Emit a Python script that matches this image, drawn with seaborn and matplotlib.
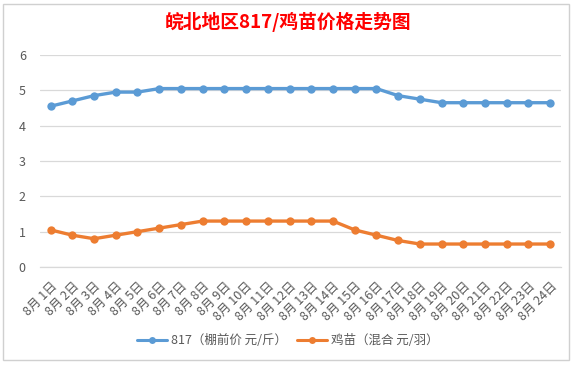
import numpy as np
import pandas as pd
import matplotlib
matplotlib.use("Agg")
import matplotlib.pyplot as plt
from matplotlib.patches import Rectangle
import seaborn as sns

# ── data ─────────────────────────────────────────────────────────────────────
dates = [f"8月 {d}日" for d in range(1, 25)]
price_817 = [4.55, 4.7, 4.85, 4.95, 4.95, 5.05, 5.05, 5.05, 5.05, 5.05, 5.05, 5.05,
             5.05, 5.05, 5.05, 5.05, 4.85, 4.75, 4.65, 4.65, 4.65, 4.65, 4.65, 4.65]
price_chick = [1.05, 0.9, 0.8, 0.9, 1.0, 1.1, 1.2, 1.3, 1.3, 1.3, 1.3, 1.3,
               1.3, 1.3, 1.05, 0.9, 0.75, 0.65, 0.65, 0.65, 0.65, 0.65, 0.65, 0.65]
series_names = ["817（棚前价 元/斤）", "鸡苗（混合 元/羽）"]

BLUE = "#5B9BD5"
ORANGE = "#ED7D31"
GRID = "#D9D9D9"
TEXT = "#595959"

sns.set_theme(style="white")
plt.rcParams["font.family"] = ["Noto Sans CJK SC", "DejaVu Sans"]

df = pd.DataFrame({
    "pos": list(range(len(dates))) * 2,
    "value": price_817 + price_chick,
    "series": [series_names[0]] * len(dates) + [series_names[1]] * len(dates),
})

fig = plt.figure(figsize=(5.76, 3.67), dpi=100)
ax = fig.add_axes([0.069, 0.2725, 0.905, 0.5776])

sns.lineplot(data=df, x="pos", y="value", hue="series",
             palette=[BLUE, ORANGE], marker="o", markersize=6,
             markeredgewidth=0, linewidth=2.4, ax=ax, legend=False)

ax.set_xlim(-0.5, len(dates) - 0.5)
ax.set_ylim(0, 6)
ax.set_yticks(range(0, 7))
ax.yaxis.grid(True, color=GRID, linewidth=0.9)
ax.set_xlabel("")
ax.set_ylabel("")

ax.set_xticks(range(len(dates)))
ax.set_xticklabels(dates, rotation=45, ha="right", rotation_mode="anchor",
                   fontsize=9, color=TEXT)
ax.tick_params(axis="x", length=0, pad=9)
ax.set_xticks(np.arange(-0.5, len(dates), 1), minor=True)
ax.tick_params(axis="x", which="minor", length=4, color=GRID, width=0.9)
ax.tick_params(axis="y", length=0, labelsize=9, labelcolor=TEXT, pad=10)

for s in ["top", "right", "left"]:
    ax.spines[s].set_visible(False)
ax.spines["bottom"].set_color(GRID)
ax.spines["bottom"].set_linewidth(0.9)

fig.text(0.5, 0.94, "皖北地区817/鸡苗价格走势图", ha="center", va="center",
         color="#FF0000", fontsize=13.5, fontweight="bold")

# legend
handles = [plt.Line2D([], [], color=c, marker="o", markersize=5, markeredgewidth=0,
                      linewidth=2.2) for c in (BLUE, ORANGE)]
fig.legend(handles, series_names, loc="center", bbox_to_anchor=(0.5, 0.072),
           ncol=2, frameon=False, fontsize=9, handlelength=2.4,
           columnspacing=0.8, handletextpad=0.3, labelcolor=TEXT)

# chart border
fig.patches.append(Rectangle((0.006, 0.02), 0.982, 0.97, transform=fig.transFigure,
                             fill=False, edgecolor="#D0D0D0", linewidth=1))

fig.savefig("out.png", dpi=100, facecolor="white")
